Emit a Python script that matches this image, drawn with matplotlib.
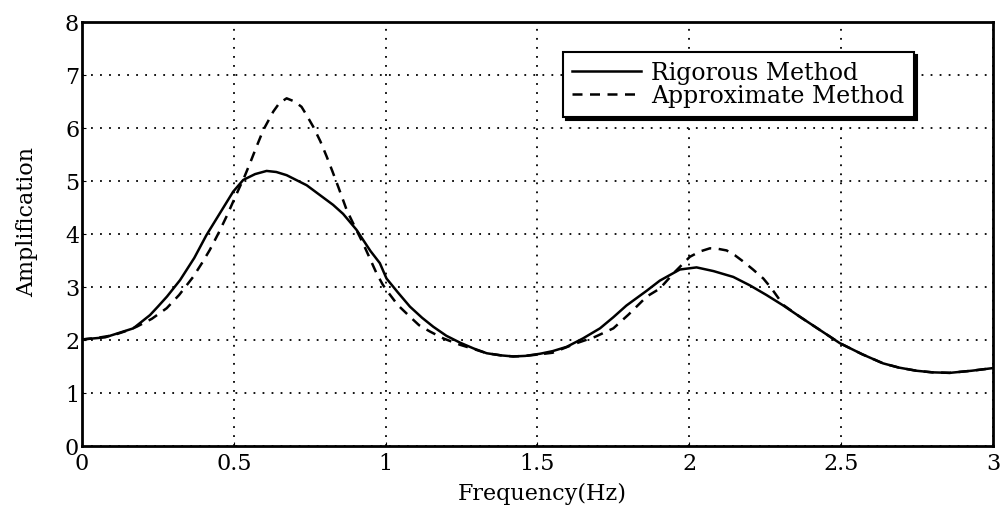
import numpy as np
import matplotlib.pyplot as plt

# valores
freq_rig = [0.0, 0.076, 0.169, 0.224, 0.25, 0.28, 0.323, 0.37, 0.41, 0.454,
            0.498, 0.531, 0.57, 0.608, 0.64, 0.674, 0.74, 0.827, 0.86, 0.904,
            0.95, 0.981, 1.003, 1.04, 1.08, 1.12, 1.157, 1.2, 1.245, 1.29,
            1.333, 1.38, 1.42, 1.46, 1.508, 1.55, 1.596, 1.65, 1.706, 1.75,
            1.793, 1.86, 1.903, 1.969, 2.024, 2.08, 2.145, 2.2, 2.254, 2.31,
            2.364, 2.43, 2.496, 2.57, 2.638, 2.69, 2.748, 2.8, 2.858, 2.93, 3.0]
amp_rig = [2.01, 2.05, 2.22, 2.47, 2.63, 2.82, 3.13, 3.55, 3.98, 4.39,
           4.80, 5.02, 5.13, 5.19, 5.17, 5.11, 4.92, 4.55, 4.38, 4.08,
           3.68, 3.45, 3.16, 2.90, 2.63, 2.42, 2.25, 2.08, 1.95, 1.84,
           1.75, 1.71, 1.69, 1.70, 1.74, 1.79, 1.87, 2.03, 2.22, 2.43,
           2.65, 2.93, 3.12, 3.33, 3.37, 3.30, 3.19, 3.03, 2.85, 2.65,
           2.44, 2.19, 1.94, 1.73, 1.56, 1.48, 1.42, 1.39, 1.38, 1.42, 1.47]

freq_apx = [0.0, 0.05, 0.103, 0.14, 0.18, 0.23, 0.279, 0.32, 0.366, 0.395,
            0.421, 0.45, 0.476, 0.515, 0.535, 0.553, 0.575, 0.597, 0.63, 0.65,
            0.674, 0.70, 0.723, 0.74, 0.762, 0.785, 0.806, 0.825, 0.844, 0.872,
            0.90, 0.926, 0.97, 0.99, 1.003, 1.04, 1.08, 1.11, 1.146, 1.19,
            1.245, 1.29, 1.333, 1.38, 1.42, 1.46, 1.508, 1.55, 1.629, 1.69,
            1.75, 1.80, 1.86, 1.903, 1.95, 2.002, 2.035, 2.068, 2.095, 2.123,
            2.15, 2.178, 2.21, 2.244, 2.27, 2.31, 2.364, 2.43, 2.496, 2.57,
            2.638, 2.69, 2.748, 2.8, 2.858, 2.93, 3.0]
amp_apx = [2.01, 2.04, 2.09, 2.16, 2.25, 2.40, 2.60, 2.85, 3.19, 3.45,
           3.70, 4.02, 4.33, 4.83, 5.08, 5.33, 5.65, 5.96, 6.31, 6.47,
           6.56, 6.50, 6.40, 6.24, 6.02, 5.75, 5.46, 5.18, 4.89, 4.45,
           4.12, 3.82, 3.26, 3.05, 2.94, 2.66, 2.44, 2.28, 2.16, 2.03,
           1.91, 1.83, 1.75, 1.71, 1.69, 1.70, 1.73, 1.76, 1.94, 2.06,
           2.22, 2.48, 2.82, 2.97, 3.27, 3.57, 3.67, 3.73, 3.72, 3.69,
           3.60, 3.48, 3.33, 3.16, 2.98, 2.66, 2.44, 2.19, 1.94, 1.73,
           1.56, 1.48, 1.42, 1.39, 1.38, 1.42, 1.47]

xticks = [0, 0.5, 1, 1.5, 2, 2.5, 3]
xtick_labels = ["0", "0.5", "1", "1.5", "2", "2.5", "3"]
yticks = [0, 1, 2, 3, 4, 5, 6, 7, 8]

plt.rcParams["font.family"] = ["DejaVu Serif"]

fig = plt.figure(figsize=(10.01, 5.13), dpi=100)
ax = fig.add_axes([0.0819, 0.1306, 0.910, 0.8265])

ax.plot(freq_rig, amp_rig, color="black", linewidth=1.8, linestyle="-",
        label="Rigorous Method")
ax.plot(freq_apx, amp_apx, color="black", linewidth=1.8, linestyle=(0, (4, 3)),
        label="Approximate Method")

ax.set_xlim(0, 3)
ax.set_ylim(0, 8)
ax.set_xticks(xticks)
ax.set_xticklabels(xtick_labels)
ax.set_yticks(yticks)
ax.grid(True, color="black", linestyle=(0, (1, 4)), linewidth=1.3)
ax.tick_params(direction="in", length=3, labelsize=16, colors="black")
ax.tick_params(axis="x", pad=5)
ax.tick_params(axis="y", pad=2)

for s in ax.spines.values():
    s.set_linewidth(2)

ax.set_xlabel("Frequency(Hz)", fontsize=16)
ax.set_ylabel("Amplification", fontsize=16)
ax.xaxis.set_label_coords(0.505, -0.086)
ax.yaxis.set_label_coords(-0.048, 0.528)

leg = ax.legend(loc="upper left", bbox_to_anchor=(0.528, 0.929), fontsize=17,
                frameon=True, fancybox=False, shadow={"color": "black", "alpha": 1},
                handlelength=2.9, handletextpad=0.45, borderpad=0.4,
                labelspacing=0.0, borderaxespad=0)
leg.get_frame().set_edgecolor("black")
leg.get_frame().set_linewidth(1.5)

fig.savefig("out.png", dpi=100)
